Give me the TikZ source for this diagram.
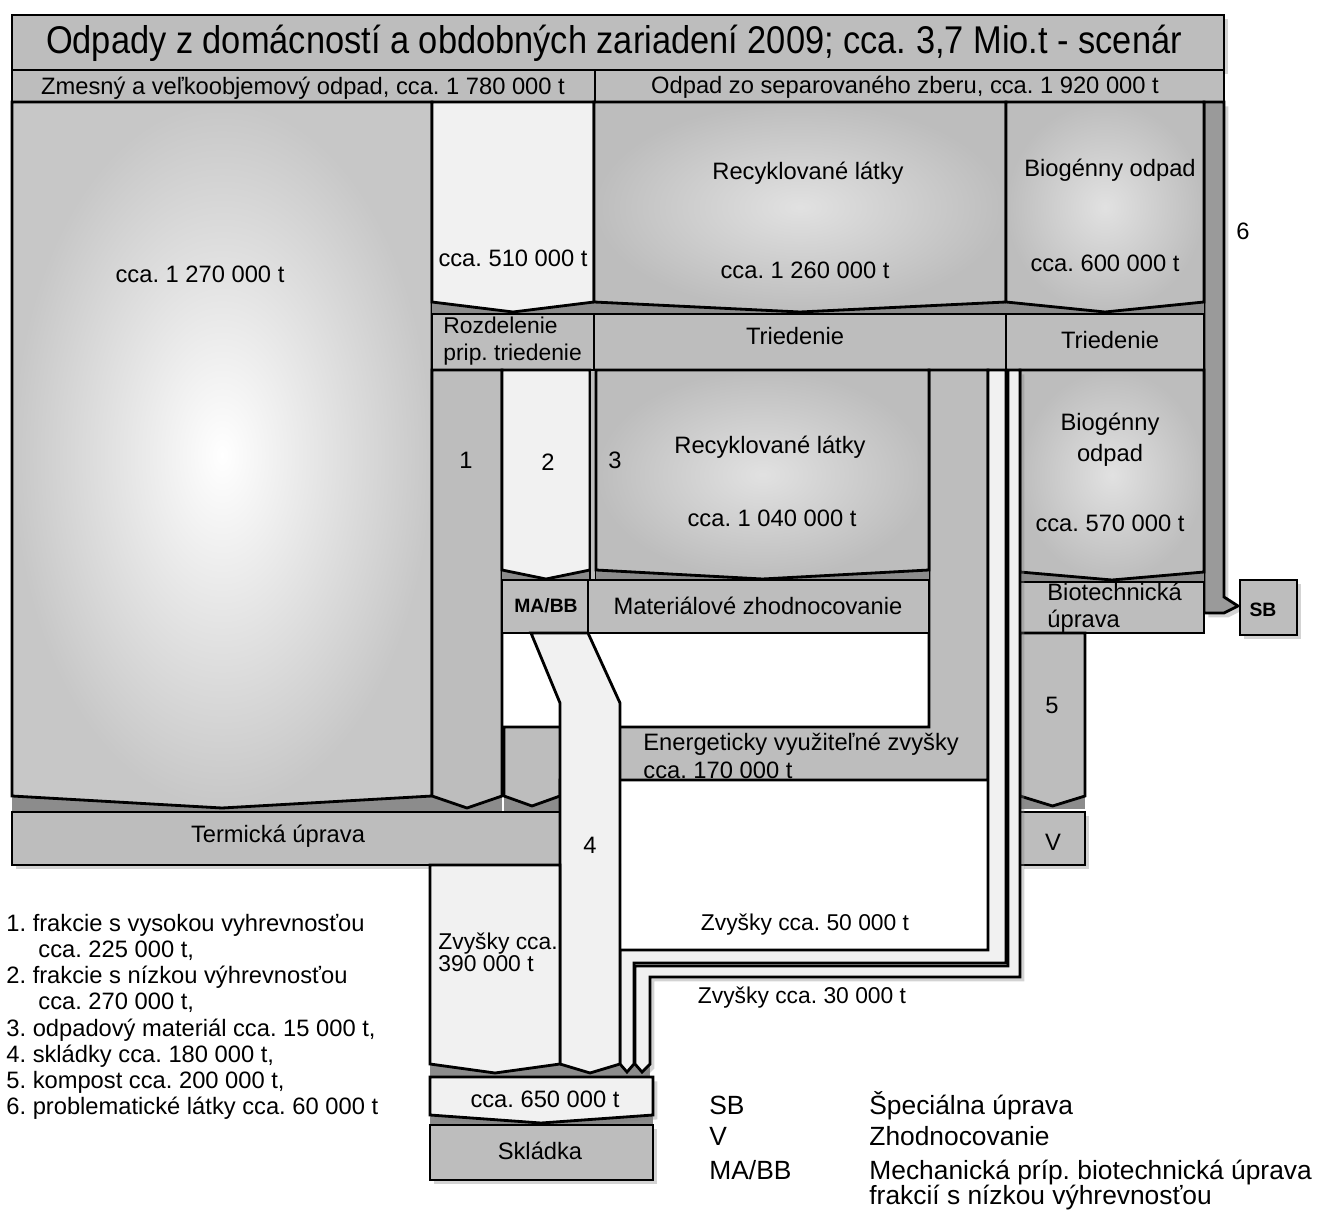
\documentclass[tikz,border=0pt]{standalone}
\usepackage{fontspec}
\setmainfont{Liberation Sans}
\usetikzlibrary{shadows}
\definecolor{boxgray}{HTML}{BDBDBD}
\definecolor{chgray}{HTML}{9A9A9A}
\definecolor{lightfill}{HTML}{F1F1F1}
\definecolor{gapgray}{HTML}{8C8C8C}

% flow block with a v-shaped bottom: x1 y1 x2 y2 tip style
\newcommand{\flowblock}[6]{%
  \fill[gapgray] (#1,#4) rectangle (#3,#5+3);
  \draw[#6] (#1,#2) -- (#3,#2) -- (#3,#4) -- ({(#1+#3)/2},#5) -- (#1,#4) -- cycle;}

\begin{document}
\frenchspacing
\begin{tikzpicture}[x=0.02cm, y=-0.02cm, line width=1.6pt,
  lbl/.style={font=\fontsize{13.5}{16}\selectfont, inner sep=0pt, align=center},
  small/.style={font=\fontsize{13}{12.5}\selectfont, inner sep=0pt, align=left},
  legend/.style={font=\fontsize{13.5}{16}\selectfont, inner sep=0pt, anchor=base west},
  keytext/.style={font=\fontsize{15}{18}\selectfont, inner sep=0pt, anchor=base west},
  greybox/.style={draw=black, fill=boxgray},
  lightbox/.style={draw=black, fill=lightfill},
  softshade/.style={shade, inner color=boxgray!45!white, outer color=boxgray},
  shadowed/.style={drop shadow={shadow xshift=2.5pt, shadow yshift=-2.5pt, opacity=0.35}}]

\useasboundingbox (0,0) rectangle (1324,1212);

% Title and headers
\draw[greybox, shadowed] (12,15) rectangle (1224,70);
\node[lbl, font=\fontsize{22}{26}\selectfont] (title) at (614,43)
  {\scalebox{0.89}[1]{Odpady z domácností a obdobných zariadení 2009; cca. 3,7 Mio.t - scenár}};
\draw[greybox] (12,70) rectangle (595,102);
\draw[greybox] (595,70) rectangle (1224,102);
\node[lbl] (mixed) at (303,88) {Zmesný a veľkoobjemový odpad, cca. 1 780 000 t};
\node[lbl] (separate) at (905,87) {Odpad zo separovaného zberu, cca. 1 920 000 t};

% Channel 6 to special treatment
\draw[fill=chgray, shadowed] (1204,102) -- (1224,102) -- (1224,597) -- (1238,606)
  -- (1224,613) -- (1204,613) -- cycle;

% First row of flows
\flowblock{12}{102}{432}{796}{808}{shade, inner color=white, outer color=boxgray!85!white}
\flowblock{432}{102}{594}{302}{312}{fill=lightfill}
\flowblock{594}{102}{1006}{302}{312}{softshade}
\flowblock{1006}{102}{1204}{302}{312}{softshade}

\node[lbl] (mixedrest) at (200,274) {cca. 1 270 000 t};
\node[lbl] (lowcal) at (513,258) {cca. 510 000 t};
\node[lbl] (recyc) at (808,173) {Recyklované látky};
\node[lbl] (recycamt) at (805,270) {cca. 1 260 000 t};
\node[lbl] (bio) at (1110,170) {Biogénny odpad};
\node[lbl] (bioamt) at (1105,263) {cca. 600 000 t};
\node[lbl] (six) at (1243,231) {6};

% Sorting row
\draw[greybox] (432,314) rectangle (594,370);
\draw[greybox] (594,314) rectangle (1006,370);
\draw[greybox] (1006,314) rectangle (1204,370);
\node[lbl, anchor=west, align=left, font=\fontsize{13}{15}\selectfont] (split) at (442,341)
  {Rozdelenie\\prip. triedenie};
\node[lbl] (sortrec) at (795,336) {Triedenie};
\node[lbl] (sortbio) at (1110,340) {Triedenie};

% Energy residues band (behind column 4)
\fill[gapgray] (504,796) rectangle (560,811);
\draw[greybox] (504,727) -- (929,727) -- (929,370) -- (988,370) -- (988,780) -- (560,780)
  -- (560,796) -- (532,806) -- (504,796) -- cycle;

% Second row of flows
\flowblock{432}{370}{502}{796}{808}{fill=boxgray}
\flowblock{502}{370}{590}{570}{579}{fill=lightfill}
\draw[greybox] (590,370) rectangle (596,580);
\flowblock{596}{370}{929}{570}{579}{softshade}
\flowblock{1020}{370}{1204}{572}{580}{softshade}

\node[lbl] (one) at (466,460) {1};
\node[lbl] (two) at (548,462) {2};
\node[lbl] (three) at (615,460) {3};
\node[lbl] (recyc2) at (770,447) {Recyklované látky};
\node[lbl] (recyc2amt) at (772,518) {cca. 1 040 000 t};
\node[lbl, font=\fontsize{13.5}{17.6}\selectfont] (bio2) at (1110,440) {Biogénny\\odpad};
\node[lbl] (bio2amt) at (1110,523) {cca. 570 000 t};

% Treatment row
\draw[greybox] (502,580) rectangle (588,633);
\draw[greybox] (588,580) rectangle (929,633);
\draw[greybox] (1020,582) rectangle (1204,633);
\draw[greybox, shadowed] (1240,580) rectangle (1297,635);
\node[lbl, font=\bfseries\fontsize{11}{13}\selectfont] (mabb) at (546,606) {MA/BB};
\node[lbl] (material) at (758,606) {Materiálové zhodnocovanie};
\node[lbl, anchor=west, align=left, font=\fontsize{13.5}{15.3}\selectfont] (biotech) at (1046,608)
  {Biotechnická\\úprava};
\node[lbl, font=\bfseries\fontsize{11}{13}\selectfont] (sb) at (1263,610) {SB};

% Compost column and recovery
\flowblock{1020}{633}{1085}{796}{806}{fill=boxgray}
\draw[greybox, shadowed] (1020,812) rectangle (1085,865);
\node[lbl] (five) at (1052,705) {5};
\node[lbl] (recov) at (1053,842) {V};

% Thermal treatment
\draw[greybox, shadowed] (12,812) rectangle (560,865);
\node[lbl] (thermal) at (278,836) {Termická úprava};

% Residue paths 30 000 t and 50 000 t
\fill[gapgray] (620,1064) rectangle (650,1077);
\draw[lightbox, shadowed] (1008,370) -- (1020,370) -- (1020,977) -- (650,977) -- (650,1064)
  -- (642,1072) -- (635,1064) -- (635,966) -- (1008,966) -- cycle;
\draw[lightbox] (988,370) -- (1006,370) -- (1006,963) -- (634,963) -- (634,1064)
  -- (627,1072) -- (620,1064) -- (620,950) -- (988,950) -- cycle;

% Landfill column 4
\fill[gapgray] (560,1064) rectangle (620,1077);
\draw[lightbox] (531,633) -- (588,633) -- (620,703) -- (620,1064) -- (590,1073)
  -- (560,1064) -- (560,703) -- cycle;
\node[lbl] (four) at (590,845) {4};

\node[lbl, anchor=west, align=left] (energy) at (642,756)
  {Energeticky využiteľné zvyšky\\cca. 170 000 t};
\node[small] (res50) at (805,925) {Zvyšky cca. 50 000 t};
\node[small] (res30) at (802,998) {Zvyšky cca. 30 000 t};

% Residues from thermal treatment
\flowblock{430}{865}{560}{1064}{1073}{fill=lightfill}
\node[small, anchor=west] (res390) at (437,952) {Zvyšky cca.\\390 000 t};

% Landfill
\fill[gapgray] (430,1115) rectangle (653,1125);
\draw[lightbox, shadowed] (430,1077) -- (653,1077) -- (653,1115) -- (541,1123) -- (430,1115) -- cycle;
\node[lbl] (amt650) at (545,1099) {cca. 650 000 t};
\draw[greybox, shadowed] (430,1125) rectangle (653,1180);
\node[lbl] (landfill) at (540,1151) {Skládka};

% Legend of numbered flows
\foreach \y/\x/\txt [count=\i] in {931/5/{1. frakcie s vysokou vyhrevnosťou},
    957/37/{cca. 225 000 t,}, 983/5/{2. frakcie s nízkou výhrevnosťou},
    1009/37/{cca. 270 000 t,}, 1036/5/{3. odpadový materiál cca. 15 000 t,},
    1062/5/{4. skládky cca. 180 000 t,}, 1088/5/{5. kompost cca. 200 000 t,},
    1114/5/{6. problematické látky cca. 60 000 t}}
  \node[legend] (leg\i) at (\x,\y) {\txt};

% Legend of abbreviations
\foreach \y/\abbr/\txt [count=\i] in {1114/SB/{Špeciálna úprava}, 1145/V/{Zhodnocovanie},
    1179/MA\slash BB/{Mechanická príp. biotechnická úprava}}{
  \node[keytext] (abbr\i) at (708,\y) {\abbr};
  \node[keytext] (expl\i) at (868,\y) {\txt};
}
\node[keytext] (expl4) at (868,1204) {frakcií s nízkou výhrevnosťou};

\end{tikzpicture}
\end{document}
